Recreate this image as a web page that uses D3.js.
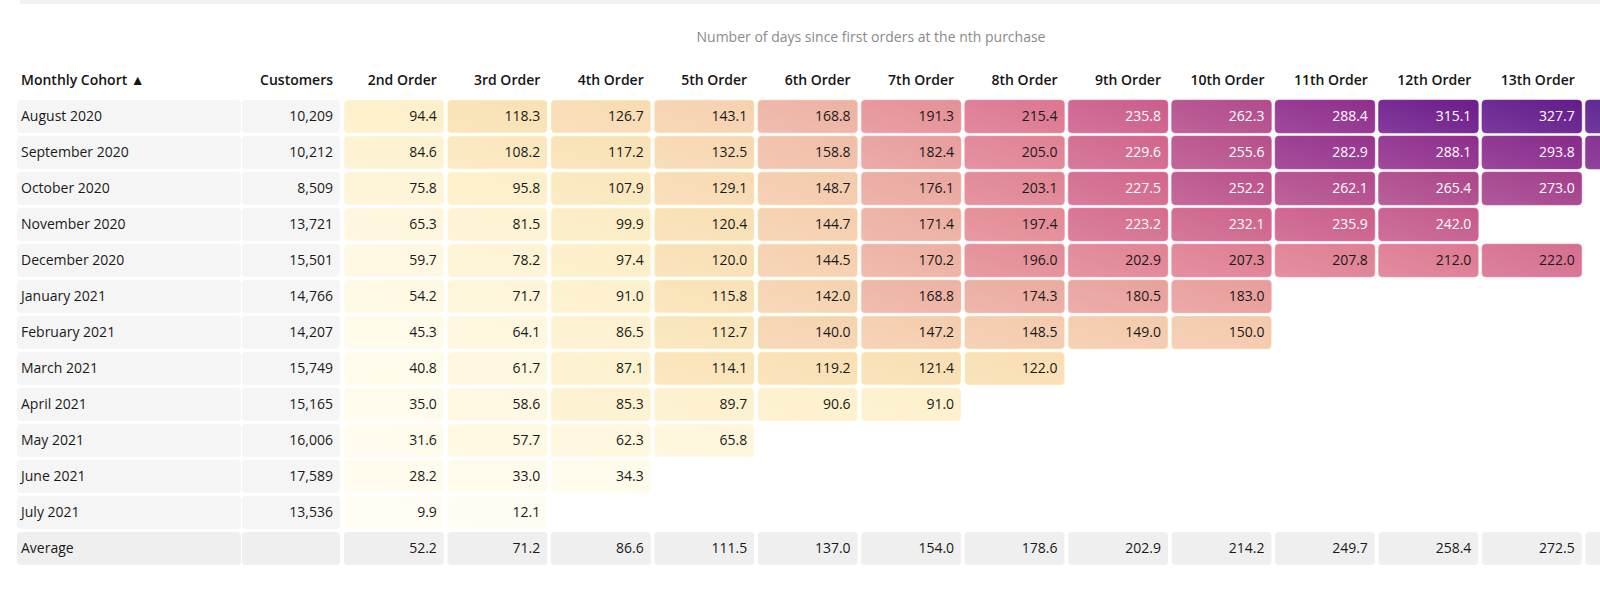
<!DOCTYPE html>
<html>
<head>
<meta charset="utf-8">
<script src="https://cdn.jsdelivr.net/npm/d3@7"></script>
<style>
  body { margin: 0; background: #fff; }
  svg { display: block; font-family: "Open Sans", "Noto Sans", sans-serif; }
</style>
</head>
<body>
<script>
// cohort rows
const cohorts = ["August 2020", "September 2020", "October 2020", "November 2020",
  "December 2020", "January 2021", "February 2021", "March 2021", "April 2021",
  "May 2021", "June 2021", "July 2021"];
const customers = [10209, 10212, 8509, 13721, 15501, 14766, 14207, 15749, 15165, 16006, 17589, 13536];
const orderLabels = ["2nd Order", "3rd Order", "4th Order", "5th Order", "6th Order", "7th Order",
  "8th Order", "9th Order", "10th Order", "11th Order", "12th Order", "13th Order", "14th Order"];

// days since first order, per cohort (last column is cut off at the right edge)
const days = [
  [94.4, 118.3, 126.7, 143.1, 168.8, 191.3, 215.4, 235.8, 262.3, 288.4, 315.1, 327.7, 339.5],
  [84.6, 108.2, 117.2, 132.5, 158.8, 182.4, 205.0, 229.6, 255.6, 282.9, 288.1, 293.8, 301.0],
  [75.8, 95.8, 107.9, 129.1, 148.7, 176.1, 203.1, 227.5, 252.2, 262.1, 265.4, 273.0],
  [65.3, 81.5, 99.9, 120.4, 144.7, 171.4, 197.4, 223.2, 232.1, 235.9, 242.0],
  [59.7, 78.2, 97.4, 120.0, 144.5, 170.2, 196.0, 202.9, 207.3, 207.8, 212.0, 222.0],
  [54.2, 71.7, 91.0, 115.8, 142.0, 168.8, 174.3, 180.5, 183.0],
  [45.3, 64.1, 86.5, 112.7, 140.0, 147.2, 148.5, 149.0, 150.0],
  [40.8, 61.7, 87.1, 114.1, 119.2, 121.4, 122.0],
  [35.0, 58.6, 85.3, 89.7, 90.6, 91.0],
  [31.6, 57.7, 62.3, 65.8],
  [28.2, 33.0, 34.3],
  [9.9, 12.1]
];
const averages = [52.2, 71.2, 86.6, 111.5, 137.0, 154.0, 178.6, 202.9, 214.2, 249.7, 258.4, 272.5, 320.2];

const title = "Number of days since first orders at the nth purchase";

const w = 1600, h = 599;
const svg = d3.select("body").append("svg").attr("width", w).attr("height", h);

// colour ramp (light yellow -> peach -> pink -> purple)
const color = d3.scaleLinear()
  .domain([0, 50, 95, 118, 143, 169, 191, 215, 236, 262, 288, 315, 340])
  .range(["#fffef6", "#fffae6", "#fdefc8", "#f9e1b3", "#f6d1ae", "#edb2a2", "#e59096",
          "#dc7690", "#cb5d8a", "#b24a8a", "#8f2d8c", "#6e1c8b", "#591a8c"])
  .interpolate(d3.interpolateRgb)
  .clamp(true);

const defs = svg.append("defs");
const sheen = defs.append("linearGradient").attr("id", "sheen")
  .attr("x1", 0).attr("y1", 1).attr("x2", 1).attr("y2", 0);
sheen.append("stop").attr("offset", "0%").attr("stop-color", "#fff").attr("stop-opacity", 0.14);
sheen.append("stop").attr("offset", "100%").attr("stop-color", "#fff").attr("stop-opacity", 0);

// top strip
svg.append("rect").attr("x", 20).attr("y", 0).attr("width", w - 20).attr("height", 4).attr("fill", "#f2f2f2");

// scales
const rowNames = cohorts.concat(["Average"]);
const y = d3.scaleBand().domain(rowNames).range([100, 565]).paddingInner(3 / 36);
const x = d3.scaleBand().domain(orderLabels).range([344, 344 + 103.45 * (13 - 0.035)]).paddingInner(0.035);

const labelX = 17, labelW = 224, custX = 242, custW = 98;
const rh = y.bandwidth(), bw = x.bandwidth();
// only write a label when it ends inside the picture (the last column runs off the edge)
const fits = col => x(col) + bw - 7 <= w;

svg.append("text")
  .attr("x", 871).attr("y", 42)
  .attr("text-anchor", "middle")
  .attr("font-size", 14).attr("fill", "#8a8a8a")
  .text(title);

// header
const header = svg.append("g").attr("font-size", 14).attr("font-weight", 600).attr("fill", "#141414");
header.append("text").attr("x", 21).attr("y", 85).text("Monthly Cohort \u25B2");
header.append("text").attr("x", custX + custW - 7).attr("y", 85).attr("text-anchor", "end").text("Customers");
header.selectAll(".oh").data(orderLabels.filter(fits)).enter().append("text")
  .attr("class", "oh")
  .attr("x", d => x(d) + bw - 7).attr("y", 85)
  .attr("text-anchor", "end")
  .text(d => d);

// left grey cells
const rows = svg.append("g").attr("font-size", 14);
rowNames.forEach((name, i) => {
  const fill = name === "Average" ? "#efefef" : "#f5f5f5";
  rows.append("rect").attr("x", labelX).attr("y", y(name)).attr("width", labelW).attr("height", rh)
    .attr("rx", 4).attr("fill", fill);
  rows.append("rect").attr("x", custX).attr("y", y(name)).attr("width", custW).attr("height", rh)
    .attr("rx", 4).attr("fill", fill);
  rows.append("text").attr("x", 21).attr("y", y(name) + rh / 2).attr("dy", "0.35em")
    .attr("fill", "#1a1a1a").text(name);
  if (i < customers.length) {
    rows.append("text").attr("x", custX + custW - 7).attr("y", y(name) + rh / 2).attr("dy", "0.35em")
      .attr("text-anchor", "end").attr("fill", "#1a1a1a").text(d3.format(",")(customers[i]));
  }
});

// heat cells
const cells = [];
days.forEach((vals, i) => vals.forEach((v, j) => cells.push({ row: cohorts[i], col: orderLabels[j], v: v })));

const cg = svg.append("g").attr("font-size", 14);
const cell = cg.selectAll(".cell").data(cells).enter().append("g").attr("class", "cell")
  .attr("transform", d => `translate(${x(d.col)},${y(d.row)})`);
cell.append("rect").attr("width", bw).attr("height", rh).attr("rx", 4)
  .attr("fill", d => color(d.v))
  .attr("stroke", d => d3.color(color(d.v)).brighter(0.5))
  .attr("stroke-opacity", 0.5).attr("stroke-width", 1);
cell.append("rect").attr("width", bw).attr("height", rh).attr("rx", 4).attr("fill", "url(#sheen)");
cell.filter(d => fits(d.col)).append("text").attr("x", bw - 7).attr("y", rh / 2).attr("dy", "0.35em")
  .attr("text-anchor", "end")
  .attr("fill", d => d.v > 222.5 ? "#ffffff" : "#1a1a1a")
  .text(d => d3.format(".1f")(d.v));

// average row
const avgData = averages.map((v, j) => ({ col: orderLabels[j], v: v }));
const avg = svg.append("g").attr("font-size", 14);
const ac = avg.selectAll(".avg").data(avgData).enter().append("g")
  .attr("transform", d => `translate(${x(d.col)},${y("Average")})`);
ac.append("rect").attr("width", bw).attr("height", rh).attr("rx", 4).attr("fill", "#efefef");
ac.filter(d => fits(d.col)).append("text").attr("x", bw - 7).attr("y", rh / 2).attr("dy", "0.35em")
  .attr("text-anchor", "end").attr("fill", "#1a1a1a")
  .text(d => d3.format(".1f")(d.v));
</script>
</body>
</html>
